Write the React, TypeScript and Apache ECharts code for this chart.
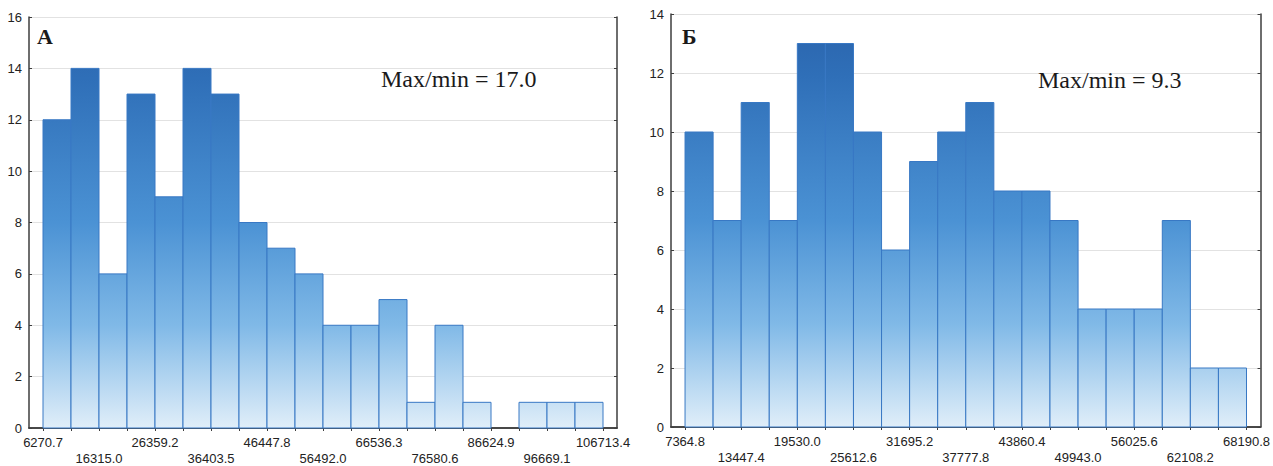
import React, { useEffect, useRef } from "react";
import * as echarts from "echarts";

// Panel А
const countsA = [12, 14, 6, 13, 9, 14, 13, 8, 7, 6, 4, 4, 5, 1, 4, 1, 0, 1, 1, 1];
const tickLabelsA = ["6270.7", "16315.0", "26359.2", "36403.5", "46447.8", "56492.0", "66536.3", "76580.6", "86624.9", "96669.1", "106713.4"];
const yMaxA = 16;
const annotationA = "Max/min = 17.0";
const panelLetterA = "А";

// Panel Б
const countsB = [10, 7, 11, 7, 13, 13, 10, 6, 9, 10, 11, 8, 8, 7, 4, 4, 4, 7, 2, 2];
const tickLabelsB = ["7364.8", "13447.4", "19530.0", "25612.6", "31695.2", "37777.8", "43860.4", "49943.0", "56025.6", "62108.2", "68190.8"];
const yMaxB = 14;
const annotationB = "Max/min = 9.3";
const panelLetterB = "Б";

const axisColor = "#3e3e3e";
const gradStops = [
  { offset: 0, color: "#2a63ab" },
  { offset: 0.15, color: "#2f6fb8" },
  { offset: 0.5, color: "#4b92d4" },
  { offset: 0.75, color: "#80b9e7" },
  { offset: 1, color: "#e0eef9" },
];

function buildPanel(counts: number[], labels: string[], yMax: number, gridIndex: number) {
  const labelVals = labels.map((s) => parseFloat(s));
  const lo = labelVals[0];
  const hi = labelVals[labelVals.length - 1];
  const binW = (hi - lo) / counts.length;
  const edges = counts.map((_, i) => lo + i * binW).concat([hi]);
  const data = counts.map((c, i) => [edges[i], edges[i + 1], c]);
  const min = lo - binW / 2;
  const max = hi + binW / 2;

  const xBottom = {
    type: "value",
    gridIndex,
    position: "bottom",
    min,
    max,
    axisLine: { show: true, lineStyle: { color: axisColor, width: 1.5 } },
    axisTick: { show: true, inside: false, length: 3, customValues: edges, lineStyle: { color: axisColor } },
    axisLabel: {
      show: true,
      customValues: labelVals,
      margin: 6,
      color: "#222",
      fontSize: 13,
      fontFamily: "Liberation Sans, Arial, sans-serif",
      lineHeight: 16,
      formatter: (v: number) => {
        const idx = Math.round((v - lo) / (2 * binW));
        const t = labels[idx] ?? "";
        return idx % 2 === 1 ? "\n" + t : t;
      },
    },
    splitLine: { show: false },
  };
  const xTop = {
    type: "value",
    gridIndex,
    position: "top",
    min,
    max,
    axisLine: { show: true, lineStyle: { color: axisColor, width: 1.5 } },
    axisTick: { show: true, inside: true, length: 3, customValues: edges, lineStyle: { color: axisColor } },
    axisLabel: { show: false },
    splitLine: { show: false },
  };
  const yLeft = {
    type: "value",
    gridIndex,
    position: "left",
    min: 0,
    max: yMax,
    interval: 2,
    axisLine: { show: true, lineStyle: { color: axisColor, width: 1.5 } },
    axisTick: { show: true, inside: true, length: 3, lineStyle: { color: axisColor } },
    axisLabel: { show: true, margin: 7, color: "#222", fontSize: 13, fontFamily: "Liberation Sans, Arial, sans-serif" },
    splitLine: { show: true, lineStyle: { color: "#e2e2e2", width: 1 } },
  };
  const yRight = {
    type: "value",
    gridIndex,
    position: "right",
    min: 0,
    max: yMax,
    interval: 2,
    axisLine: { show: true, lineStyle: { color: axisColor, width: 1.5 } },
    axisTick: { show: true, inside: true, length: 3, lineStyle: { color: axisColor } },
    axisLabel: { show: false },
    splitLine: { show: false },
  };
  const series = {
    type: "custom",
    xAxisIndex: gridIndex * 2,
    yAxisIndex: gridIndex * 2,
    encode: { x: [0, 1], y: 2 },
    data,
    renderItem: (params: any, api: any) => {
      const x0 = api.value(0);
      const x1 = api.value(1);
      const v = api.value(2);
      if (!v) return { type: "group", children: [] };
      const p0 = api.coord([x0, v]);
      const p1 = api.coord([x1, 0]);
      const top = api.coord([x0, yMax])[1];
      return {
        type: "rect",
        shape: { x: p0[0], y: p0[1], width: p1[0] - p0[0], height: p1[1] - p0[1] },
        style: {
          fill: new echarts.graphic.LinearGradient(0, top, 0, p1[1], gradStops, true),
          stroke: "#3878c4",
          lineWidth: 1,
        },
      };
    },
  };
  return { xBottom, xTop, yLeft, yRight, series };
}

export default function App() {
  const ref = useRef<HTMLDivElement>(null);
  useEffect(() => {
    document.body.style.margin = "0";
    if (!ref.current) return;
    const chart = echarts.init(ref.current, undefined, { renderer: "svg" });
    const a = buildPanel(countsA, tickLabelsA, yMaxA, 0);
    const b = buildPanel(countsB, tickLabelsB, yMaxB, 1);
    const textFont = "24px 'Liberation Serif', 'Times New Roman', serif";
    const letterFont = "bold 22px 'Liberation Serif', 'Times New Roman', serif";
    chart.setOption({
      animation: false,
      backgroundColor: "#ffffff",
      grid: [
        { left: 29, top: 17, width: 588, height: 415 },
        { left: 671, top: 14, width: 591, height: 413 },
      ],
      xAxis: [
        { ...a.xBottom },
        { ...a.xTop },
        { ...b.xBottom },
        { ...b.xTop },
      ],
      yAxis: [
        { ...a.yLeft },
        { ...a.yRight },
        { ...b.yLeft },
        { ...b.yRight },
      ],
      series: [a.series, b.series],
      graphic: [
        { type: "text", x: 37, y: 36, z: 10, style: { text: panelLetterA, font: letterFont, fill: "#1a1a1a", verticalAlign: "middle", textVerticalAlign: "middle" } },
        { type: "text", x: 381, y: 79, z: 10, style: { text: annotationA, font: textFont, fill: "#1a1a1a", verticalAlign: "middle", textVerticalAlign: "middle" } },
        { type: "text", x: 682, y: 36, z: 10, style: { text: panelLetterB, font: letterFont, fill: "#1a1a1a", verticalAlign: "middle", textVerticalAlign: "middle" } },
        { type: "text", x: 1038, y: 80, z: 10, style: { text: annotationB, font: textFont, fill: "#1a1a1a", verticalAlign: "middle", textVerticalAlign: "middle" } },
      ],
    });
    return () => chart.dispose();
  }, []);
  return <div ref={ref} style={{ width: 1273, height: 466 }} />;
}
